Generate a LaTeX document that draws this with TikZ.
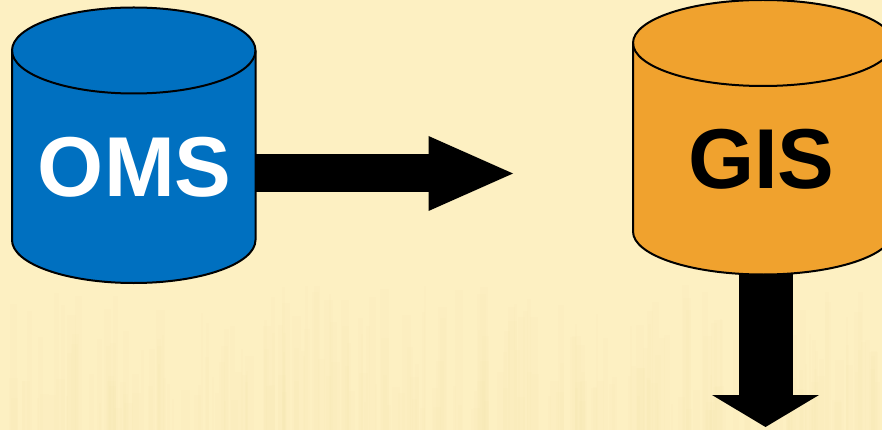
\documentclass[tikz,border=0pt]{standalone}
\usepackage{fontspec}
\setmainfont{Liberation Sans}
\usetikzlibrary{arrows.meta}
\definecolor{paper}{HTML}{FDF0C2}
\definecolor{band}{HTML}{F3E3AE}
\definecolor{omsblue}{HTML}{0070C0}
\definecolor{gisorange}{HTML}{F0A22E}
\tikzset{
  x=1pt,y=-1pt,
  cylbody/.style={draw=black,line width=2pt,line join=round},
  cyllabel/.style={font=\bfseries\fontsize{85}{90}\selectfont,inner sep=0pt},
  flow/.style={draw=black,line width=#1},
}
\begin{document}
\begin{tikzpicture}
\useasboundingbox (0,0) rectangle (882,430);
\clip (0,0) rectangle (882,430);
\fill[paper] (0,0) rectangle (882,430);
% faint vertical banding of the paper
\pgfmathsetseed{7}
\foreach \i in {1,...,260}{
  \pgfmathsetmacro{\xa}{random(0,878)}
  \pgfmathsetmacro{\wd}{random(2,9)}
  \pgfmathsetmacro{\ya}{random(285,410)}
  \fill[band,opacity=0.09] (\xa,\ya) rectangle (\xa+\wd,430);
}
% OMS cylinder
\draw[cylbody,fill=omsblue] (12,50.5) arc[start angle=180,end angle=360,x radius=121.75,y radius=43]
  -- (255.5,240) arc[start angle=0,end angle=180,x radius=121.75,y radius=43] -- cycle;
\draw[cylbody] (12,50.5) arc[start angle=180,end angle=0,x radius=121.75,y radius=43];
\node[cyllabel,text=white] (oms) at (134.7,167) {OMS};
% GIS cylinder
\draw[cylbody,fill=gisorange] (633,43) arc[start angle=180,end angle=360,x radius=130,y radius=43]
  -- (893,231.5) arc[start angle=0,end angle=180,x radius=130,y radius=43] -- cycle;
\draw[cylbody] (633,43) arc[start angle=180,end angle=0,x radius=130,y radius=43];
\node[cyllabel,text=black] (gis) at (761.3,159) {GIS};
% connectors
\coordinate (omsedge) at (255.5,173.5);
\coordinate (omsout) at (513,173.5);
\coordinate (gisedge) at (765.5,274);
\coordinate (gisout) at (765.5,427);
\draw[flow=38pt,-{Triangle[length=84.5pt,width=75pt,line width=0pt]}] (omsedge) -- (omsout);
\draw[flow=54pt,-{Triangle[length=32pt,width=107pt,line width=0pt]}] (gisedge) -- (gisout);
\end{tikzpicture}
\end{document}
